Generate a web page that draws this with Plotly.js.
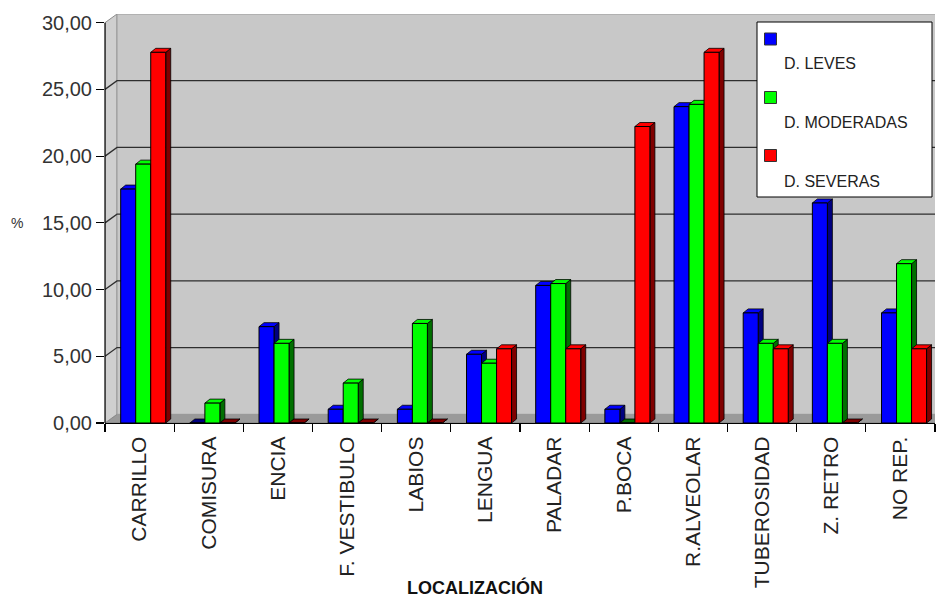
<!DOCTYPE html>
<html>
<head>
<meta charset="utf-8">
<script src="https://cdn.plot.ly/plotly-3.0.1.min.js"></script>
<style>
  html, body { margin: 0; padding: 0; background: #ffffff; }
  #chart { width: 938px; height: 600px; }
</style>
</head>
<body>
<div id="chart"></div>
<script>
// Localización de las lesiones por grado de displasia (%)
const categories = ['CARRILLO', 'COMISURA', 'ENCIA', 'F. VESTIBULO', 'LABIOS', 'LENGUA',
                    'PALADAR', 'P.BOCA', 'R.ALVEOLAR', 'TUBEROSIDAD', 'Z. RETRO', 'NO REP.'];
const leves     = [17.53, 0.00, 7.22, 1.03, 1.03, 5.15, 10.31, 1.03, 23.71, 8.25, 16.49, 8.25];
const moderadas = [19.40, 1.49, 5.97, 2.99, 7.46, 4.48, 10.45, 0.00, 23.88, 5.97, 5.97, 11.94];
const severas   = [27.78, 0.00, 0.00, 0.00, 0.00, 5.56, 5.56, 22.22, 27.78, 5.56, 0.00, 5.56];
const seriesNames = ['D. LEVES', 'D. MODERADAS', 'D. SEVERAS'];
const yTicks = [0, 5, 10, 15, 20, 25, 30];
const xTitle = 'LOCALIZACIÓN';
const yTitle = '%';

// ---- styling ----
const FONT = 'Arial, "Liberation Sans", sans-serif';
const faceColors = ['#0000FF', '#00FF00', '#FF0000'];
const sideColors = ['#000080', '#007000', '#800000'];
const series = [leves, moderadas, severas];

// plot geometry (pixels)
const W = 938, H = 600;
const M = { l: 105, r: 3, t: 14, b: 177 };
const plotW = W - M.l - M.r;
const plotH = H - M.t - M.b;
const nCat = categories.length;
const pxPerCat = plotW / nCat;

// 3D wall depth and bar depth in pixels
const wallDX = 12, wallDY = 8.7;
const barDX = 5, barDY = 4;
const yTop = yTicks[yTicks.length - 1];
const pxPerUnit = (plotH - wallDY) / yTop;
const yMax = yTop + wallDY / pxPerUnit;

const wdx = wallDX / pxPerCat, wdy = wallDY / pxPerUnit;
const bdx = barDX / pxPerCat, bdy = barDY / pxPerUnit;

// bar placement inside a category (category units)
const barW = 0.217;
const barOffsets = [-0.273, -0.056, 0.161];

const xL = -0.5, xR = nCat - 0.5;
const px2paperX = p => (p - M.l) / plotW;
const px2paperY = p => (H - M.b - p) / plotH;

const shapes = [];

// floor
shapes.push({
  type: 'path', layer: 'below', xref: 'x', yref: 'y',
  path: `M ${xL},0 L ${xR},0 L ${xR + wdx},${wdy} L ${xL + wdx},${wdy} Z`,
  fillcolor: '#9a9a9a', line: { color: '#808080', width: 1 }
});
// left wall
shapes.push({
  type: 'path', layer: 'below', xref: 'x', yref: 'y',
  path: `M ${xL},0 L ${xL},${yTop} L ${xL + wdx},${yMax} L ${xL + wdx},${wdy} Z`,
  fillcolor: '#cfcfcf', line: { color: '#8c8c8c', width: 1 }
});
// back wall
shapes.push({
  type: 'path', layer: 'below', xref: 'x', yref: 'y',
  path: `M ${xL + wdx},${wdy} L ${xL + wdx},${yMax} L ${xR + wdx},${yMax} L ${xR + wdx},${wdy} Z`,
  fillcolor: '#c8c8c8', line: { color: '#9a9a9a', width: 1 }
});
// gridlines on the back wall and across the left wall
yTicks.forEach(v => {
  if (v === 0 || v === yTop) return;
  shapes.push({
    type: 'path', layer: 'below', xref: 'x', yref: 'y',
    path: `M ${xL},${v} L ${xL + wdx},${v + wdy} L ${xR + wdx},${v + wdy}`,
    line: { color: '#2e2e2e', width: 1.3 }
  });
});

// depth faces of each bar (top and right side)
series.forEach((vals, s) => {
  vals.forEach((v, i) => {
    const x0 = i + barOffsets[s];
    const x1 = x0 + barW;
    shapes.push({
      type: 'path', layer: 'below', xref: 'x', yref: 'y',
      path: `M ${x1},0 L ${x1},${v} L ${x1 + bdx},${v + bdy} L ${x1 + bdx},${bdy} Z`,
      fillcolor: sideColors[s], line: { color: '#000000', width: 0.8 }
    });
    shapes.push({
      type: 'path', layer: 'below', xref: 'x', yref: 'y',
      path: `M ${x0},${v} L ${x1},${v} L ${x1 + bdx},${v + bdy} L ${x0 + bdx},${v + bdy} Z`,
      fillcolor: v > 0 ? faceColors[s] : sideColors[s], line: { color: '#000000', width: 0.8 }
    });
  });
});

// value axis line
shapes.push({
  type: 'line', layer: 'above', xref: 'paper', yref: 'y',
  x0: 0, x1: 0, y0: 0, y1: yTop,
  line: { color: '#000000', width: 1.2 }
});

// legend box
const legBox = { x0: 757, x1: 932, y0: 22, y1: 197 };
shapes.push({
  type: 'rect', layer: 'above', xref: 'paper', yref: 'paper',
  x0: px2paperX(legBox.x0), x1: px2paperX(legBox.x1),
  y0: px2paperY(legBox.y1), y1: px2paperY(legBox.y0),
  fillcolor: '#ffffff', line: { color: '#000000', width: 1 }
});
const legMarkY = [39, 97.5, 155.5];
const legTextY = [63, 123, 181.5];
const annotations = [];
seriesNames.forEach((name, s) => {
  shapes.push({
    type: 'rect', layer: 'above', xref: 'paper', yref: 'paper',
    x0: px2paperX(764.5), x1: px2paperX(776.5),
    y0: px2paperY(legMarkY[s] + 6), y1: px2paperY(legMarkY[s] - 6),
    fillcolor: faceColors[s], line: { color: '#333333', width: 1 }
  });
  annotations.push({
    xref: 'paper', yref: 'paper', x: px2paperX(782), y: px2paperY(legTextY[s]),
    xanchor: 'left', yanchor: 'middle', showarrow: false, text: name,
    font: { family: FONT, size: 16, color: '#222222' }
  });
});

// axis titles
annotations.push({
  xref: 'paper', yref: 'paper', x: px2paperX(475), y: px2paperY(587),
  xanchor: 'center', yanchor: 'middle', showarrow: false,
  text: '<b>' + xTitle + '</b>',
  font: { family: FONT, size: 18, color: '#111111' }
});
annotations.push({
  xref: 'paper', yref: 'y', x: px2paperX(17), y: 15,
  xanchor: 'center', yanchor: 'middle', showarrow: false, text: yTitle,
  font: { family: FONT, size: 14, color: '#333333' }
});

const traces = series.map((vals, s) => ({
  type: 'bar',
  name: seriesNames[s],
  x: categories,
  y: vals,
  width: barW,
  offset: barOffsets[s],
  marker: { color: faceColors[s], line: { color: '#000000', width: 1 } },
  hoverinfo: 'x+y+name'
}));

const layout = {
  width: W, height: H,
  margin: M,
  paper_bgcolor: '#ffffff',
  plot_bgcolor: 'rgba(0,0,0,0)',
  separators: ',.',
  showlegend: false,
  barmode: 'group',
  font: { family: FONT, color: '#222222' },
  xaxis: {
    type: 'category',
    range: [xL, xR],
    showgrid: false, zeroline: false,
    showline: true, linecolor: '#000000', linewidth: 1.2,
    ticks: 'outside', tickson: 'boundaries', ticklen: 8, tickcolor: '#000000', tickwidth: 1.2,
    tickangle: -90,
    ticklabelstandoff: 4,
    tickfont: { family: FONT, size: 21, color: '#222222' },
    fixedrange: true
  },
  yaxis: {
    range: [0, yMax],
    tickvals: yTicks,
    tickformat: '.2f',
    showgrid: false, zeroline: false, showline: false,
    ticks: 'outside', ticklen: 8, tickcolor: '#000000', tickwidth: 1.2,
    tickfont: { family: FONT, size: 20, color: '#333333' },
    fixedrange: true
  },
  shapes: shapes,
  annotations: annotations
};

Plotly.newPlot('chart', traces, layout, { displayModeBar: false, staticPlot: true });
</script>
</body>
</html>
